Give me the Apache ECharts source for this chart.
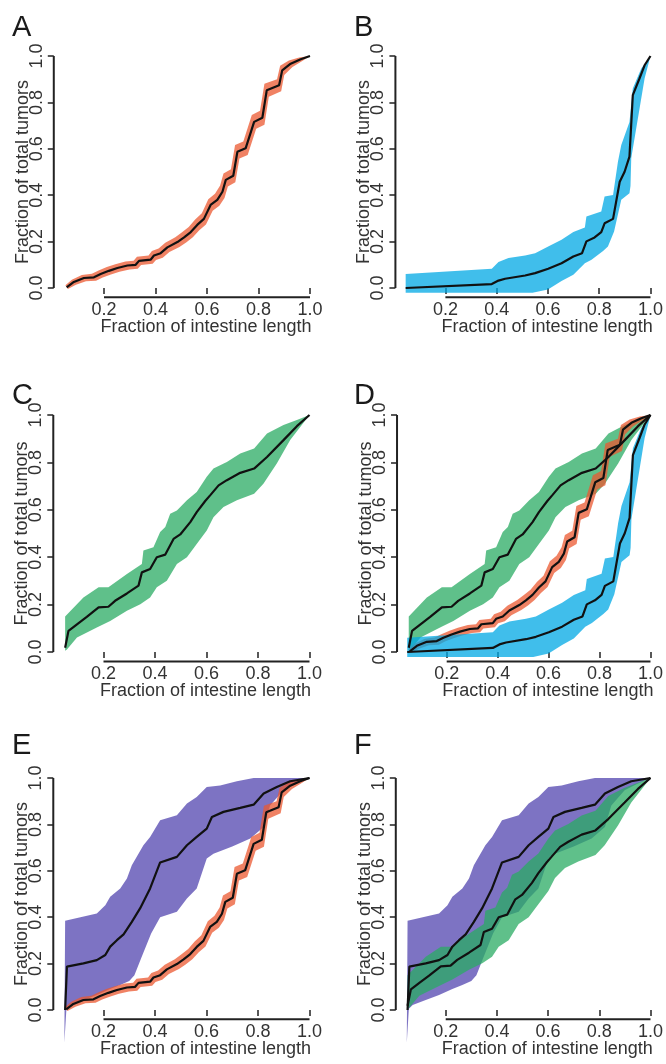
<!DOCTYPE html>
<html>
<head>
<meta charset="utf-8">
<script src="https://cdn.jsdelivr.net/npm/echarts@6/dist/echarts.min.js"></script>
<style>
html,body{margin:0;padding:0;background:#fff;}
#c{width:666px;height:1064px;}
</style>
</head>
<body>
<div id="c"></div>
<script>
// ---------- tick labels ----------
const xTicks = [0.2, 0.4, 0.6, 0.8, 1.0];
const yTicks = [0.0, 0.2, 0.4, 0.6, 0.8, 1.0];
const panelLetters = ['A', 'B', 'C', 'D', 'E', 'F'];
const xTitle = 'Fraction of intestine length';
const yTitle = 'Fraction of total tumors';

// ---------- dataset 1 (orange, panel A) ----------
const redX = [0.055,0.083,0.122,0.161,0.187,0.219,0.252,0.291,0.323,0.336,0.381,0.394,0.420,0.446,0.485,0.511,0.537,0.562,0.588,0.614,0.640,0.660,0.673,0.702,0.718,0.750,0.783,0.815,0.832,0.880,0.892,0.925,0.964,1.0];
const redY = [0.003,0.026,0.043,0.046,0.060,0.074,0.086,0.097,0.100,0.117,0.122,0.140,0.150,0.175,0.198,0.218,0.241,0.272,0.298,0.358,0.380,0.415,0.466,0.484,0.587,0.602,0.716,0.734,0.852,0.874,0.938,0.967,0.986,1.0];
const redUpper = [[0.05,0.012],[0.075,0.036],[0.114,0.056],[0.153,0.061],[0.179,0.075],[0.211,0.090],[0.244,0.102],[0.283,0.114],[0.315,0.117],[0.328,0.135],[0.373,0.140],[0.386,0.159],[0.412,0.170],[0.438,0.195],[0.477,0.219],[0.503,0.240],[0.529,0.263],[0.554,0.295],[0.580,0.322],[0.605,0.383],[0.631,0.406],[0.651,0.442],[0.664,0.494],[0.693,0.512],[0.709,0.616],[0.741,0.631],[0.774,0.746],[0.806,0.764],[0.823,0.880],[0.872,0.900],[0.884,0.958],[0.918,0.981],[0.958,0.994],[1.0,1.0]];
const redLower = [[0.06,-0.004],[0.091,0.014],[0.130,0.029],[0.169,0.031],[0.195,0.045],[0.227,0.058],[0.260,0.070],[0.299,0.080],[0.331,0.083],[0.344,0.099],[0.389,0.104],[0.402,0.121],[0.428,0.130],[0.454,0.155],[0.493,0.177],[0.519,0.196],[0.545,0.219],[0.570,0.249],[0.596,0.274],[0.622,0.333],[0.648,0.354],[0.668,0.388],[0.681,0.438],[0.710,0.456],[0.726,0.558],[0.758,0.573],[0.791,0.686],[0.823,0.704],[0.840,0.824],[0.888,0.848],[0.900,0.918],[0.932,0.953],[0.970,0.978],[1.0,1.0]];

// ---------- dataset 2 (blue, panel B) ----------
const blueX = [0.045,0.381,0.407,0.433,0.511,0.550,0.601,0.653,0.699,0.733,0.750,0.782,0.808,0.821,0.854,0.880,0.899,0.918,0.931,0.957,0.977,1.0];
const blueY = [0.0,0.017,0.032,0.040,0.054,0.064,0.083,0.107,0.136,0.150,0.201,0.218,0.241,0.279,0.298,0.458,0.501,0.566,0.831,0.903,0.960,1.0];
const blueUpper = [[0.045,0.060],[0.381,0.083],[0.407,0.112],[0.446,0.129],[0.511,0.140],[0.550,0.150],[0.601,0.179],[0.653,0.208],[0.699,0.241],[0.744,0.261],[0.750,0.308],[0.808,0.330],[0.821,0.394],[0.854,0.401],[0.873,0.544],[0.886,0.616],[0.918,0.716],[0.931,0.860],[0.964,0.946],[1.0,1.0]];
const blueLower = [[0.045,-0.021],[0.381,-0.021],[0.540,-0.021],[0.600,-0.006],[0.653,0.030],[0.699,0.057],[0.744,0.107],[0.770,0.122],[0.815,0.160],[0.834,0.179],[0.858,0.244],[0.886,0.380],[0.918,0.408],[0.922,0.440],[0.925,0.560],[0.977,0.903],[1.0,1.0]];

// ---------- dataset 3 (green, panel C) ----------
const greenX = [0.051,0.064,0.097,0.135,0.181,0.219,0.245,0.291,0.336,0.349,0.381,0.407,0.440,0.472,0.498,0.537,0.562,0.595,0.614,0.647,0.679,0.731,0.785,0.835,0.899,0.951,1.0];
const greenY = [0.018,0.089,0.117,0.148,0.188,0.191,0.216,0.247,0.280,0.336,0.350,0.400,0.411,0.477,0.496,0.548,0.590,0.637,0.661,0.703,0.725,0.756,0.774,0.823,0.894,0.953,1.0];
const greenUpper = [[0.051,0.150],[0.064,0.165],[0.122,0.230],[0.181,0.273],[0.219,0.273],[0.291,0.329],[0.349,0.371],[0.355,0.428],[0.394,0.442],[0.420,0.506],[0.440,0.527],[0.459,0.583],[0.485,0.597],[0.524,0.640],[0.562,0.675],[0.601,0.739],[0.627,0.774],[0.679,0.802],[0.731,0.838],[0.785,0.859],[0.835,0.922],[0.899,0.958],[0.951,0.979],[1.0,1.0]];
const greenLower = [[0.051,0.005],[0.058,0.011],[0.097,0.061],[0.174,0.103],[0.226,0.131],[0.291,0.174],[0.343,0.202],[0.381,0.230],[0.407,0.273],[0.446,0.301],[0.485,0.371],[0.524,0.400],[0.562,0.456],[0.601,0.513],[0.627,0.569],[0.666,0.612],[0.718,0.640],[0.785,0.668],[0.821,0.710],[0.873,0.795],[0.925,0.894],[1.0,1.0]];

// ---------- dataset 4 (purple, panel E) ----------
const purpleX = [0.051,0.058,0.122,0.174,0.207,0.226,0.252,0.278,0.310,0.342,0.381,0.420,0.485,0.524,0.562,0.601,0.621,0.666,0.731,0.783,0.822,0.873,0.925,1.0];
const purpleY = [0.0,0.187,0.201,0.215,0.237,0.273,0.301,0.326,0.380,0.438,0.524,0.636,0.660,0.710,0.746,0.782,0.832,0.854,0.871,0.885,0.933,0.961,0.986,1.0];
const purpleUpper = [[0.051,0.385],[0.174,0.416],[0.207,0.452],[0.226,0.488],[0.265,0.524],[0.291,0.567],[0.310,0.624],[0.355,0.710],[0.381,0.746],[0.420,0.818],[0.485,0.839],[0.524,0.890],[0.562,0.918],[0.601,0.961],[0.653,0.968],[0.718,0.986],[0.783,1.0],[1.0,1.0]];
const purpleLower = [[0.048,-0.14],[0.056,0.005],[0.071,0.022],[0.122,0.043],[0.174,0.065],[0.226,0.090],[0.265,0.108],[0.300,0.125],[0.320,0.150],[0.345,0.220],[0.385,0.330],[0.420,0.400],[0.485,0.423],[0.524,0.481],[0.562,0.524],[0.601,0.653],[0.627,0.674],[0.700,0.705],[0.770,0.739],[0.822,0.789],[0.847,0.882],[0.899,0.947],[0.951,0.976],[1.0,1.0]];

// ---------- styling / layout ----------
const COLORS = {
  red: 'rgba(235,88,48,0.75)',
  blue: 'rgba(0,168,228,0.75)',
  green: 'rgba(42,171,99,0.75)',
  purple: 'rgba(82,68,175,0.75)'
};
const DATASETS = {
  red:    { x: redX, y: redY, upper: redUpper, lower: redLower },
  blue:   { x: blueX, y: blueY, upper: blueUpper, lower: blueLower },
  green:  { x: greenX, y: greenY, upper: greenUpper, lower: greenLower },
  purple: { x: purpleX, y: purpleY, upper: purpleUpper, lower: purpleLower }
};
// which datasets appear in each panel (drawing order)
const PANEL_CONTENT = [['red'], ['blue'], ['green'], ['green', 'red', 'blue'], ['purple', 'red'], ['purple', 'green']];
// pixel calibration of each panel: position of x=0.2, x=1.0, y=1.0, y=0.0
const PANELS = [
  { x02: 104,   x10: 310,   y1: 56,  y0: 288,  lx: 12,  ly: 13 },
  { x02: 445.5, x10: 651,   y1: 56,  y0: 288,  lx: 354, ly: 13 },
  { x02: 103.5, x10: 309.5, y1: 415, y0: 652,  lx: 12,  ly: 381 },
  { x02: 447,   x10: 652,   y1: 415, y0: 652,  lx: 354, ly: 381 },
  { x02: 103.5, x10: 309.5, y1: 778, y0: 1010, lx: 12,  ly: 731 },
  { x02: 446,   x10: 652,   y1: 778, y0: 1010, lx: 354, ly: 731 }
];
const XMIN = 0.005, XMAX = 1.04, YMIN = -0.04, YMAX = 1.04;
const FONT = 'Liberation Sans';
const TXT = '#333';
const AX = '#222';

const grids = [], xAxes = [], yAxes = [], series = [], graphics = [];

PANELS.forEach((p, i) => {
  const ux = (p.x10 - p.x02) / 0.8;
  const uy = p.y0 - p.y1;
  grids.push({
    left: p.x02 - (0.2 - XMIN) * ux,
    width: (XMAX - XMIN) * ux,
    top: p.y1 - (YMAX - 1) * uy,
    height: (YMAX - YMIN) * uy
  });
  xAxes.push({
    gridIndex: i, type: 'value', min: XMIN, max: XMAX,
    axisLine: { show: false }, splitLine: { show: false },
    axisTick: { show: true, customValues: xTicks, length: 6, lineStyle: { color: AX, width: 1.5 } },
    axisLabel: { customValues: xTicks, formatter: v => v.toFixed(1), fontSize: 18, fontFamily: FONT, color: TXT, margin: 4 },
    name: xTitle, nameLocation: 'middle', nameGap: 21, nameMoveOverlap: false,
    nameTextStyle: { fontSize: 18, fontFamily: FONT, color: TXT, padding: [0, 0, 0, 38] }
  });
  yAxes.push({
    gridIndex: i, type: 'value', min: YMIN, max: YMAX,
    axisLine: { show: false }, splitLine: { show: false },
    axisTick: { show: true, customValues: yTicks, length: 6, lineStyle: { color: AX, width: 1.5 } },
    axisLabel: { customValues: yTicks, formatter: v => v.toFixed(1), rotate: 90, fontSize: 18, fontFamily: FONT, color: TXT, margin: 8 },
    name: yTitle, nameLocation: 'middle', nameGap: 22, nameMoveOverlap: false,
    nameTextStyle: { fontSize: 18, fontFamily: FONT, color: TXT }
  });

  // partial axis lines (R style: from first to last tick)
  series.push({
    type: 'line', xAxisIndex: i, yAxisIndex: i, clip: false, silent: true, symbol: 'none', z: 5,
    data: [[xTicks[0], YMIN], [xTicks[xTicks.length - 1], YMIN]],
    lineStyle: { color: AX, width: 2 }
  });
  series.push({
    type: 'line', xAxisIndex: i, yAxisIndex: i, clip: false, silent: true, symbol: 'none', z: 5,
    data: [[XMIN, yTicks[0]], [XMIN, yTicks[yTicks.length - 1]]],
    lineStyle: { color: AX, width: 2 }
  });

  // bands
  PANEL_CONTENT[i].forEach((key, k) => {
    const ds = DATASETS[key];
    series.push({
      type: 'custom', xAxisIndex: i, yAxisIndex: i, coordinateSystem: 'cartesian2d',
      clip: false, silent: true, z: 1 + k * 0.01,
      data: [[0.5, 0.5]],
      renderItem: (params, api) => {
        const pts = ds.upper.map(pt => api.coord(pt))
          .concat(ds.lower.slice().reverse().map(pt => api.coord(pt)));
        return { type: 'polygon', shape: { points: pts }, style: { fill: COLORS[key] } };
      }
    });
  });
  // black lines
  PANEL_CONTENT[i].forEach(key => {
    const ds = DATASETS[key];
    series.push({
      type: 'line', xAxisIndex: i, yAxisIndex: i, clip: false, silent: true, symbol: 'none', z: 3,
      data: ds.x.map((xv, j) => [xv, ds.y[j]]),
      lineStyle: { color: '#111', width: 2.2 }
    });
  });

  graphics.push({
    type: 'text', left: p.lx, top: p.ly,
    style: { text: panelLetters[i], font: '29px "' + FONT + '"', fill: '#1a1a1a' }
  });
});

const chart = echarts.init(document.getElementById('c'), null, { renderer: 'canvas' });
chart.setOption({
  backgroundColor: '#fff',
  animation: false,
  grid: grids, xAxis: xAxes, yAxis: yAxes, series: series, graphic: graphics
});
</script>
</body>
</html>
